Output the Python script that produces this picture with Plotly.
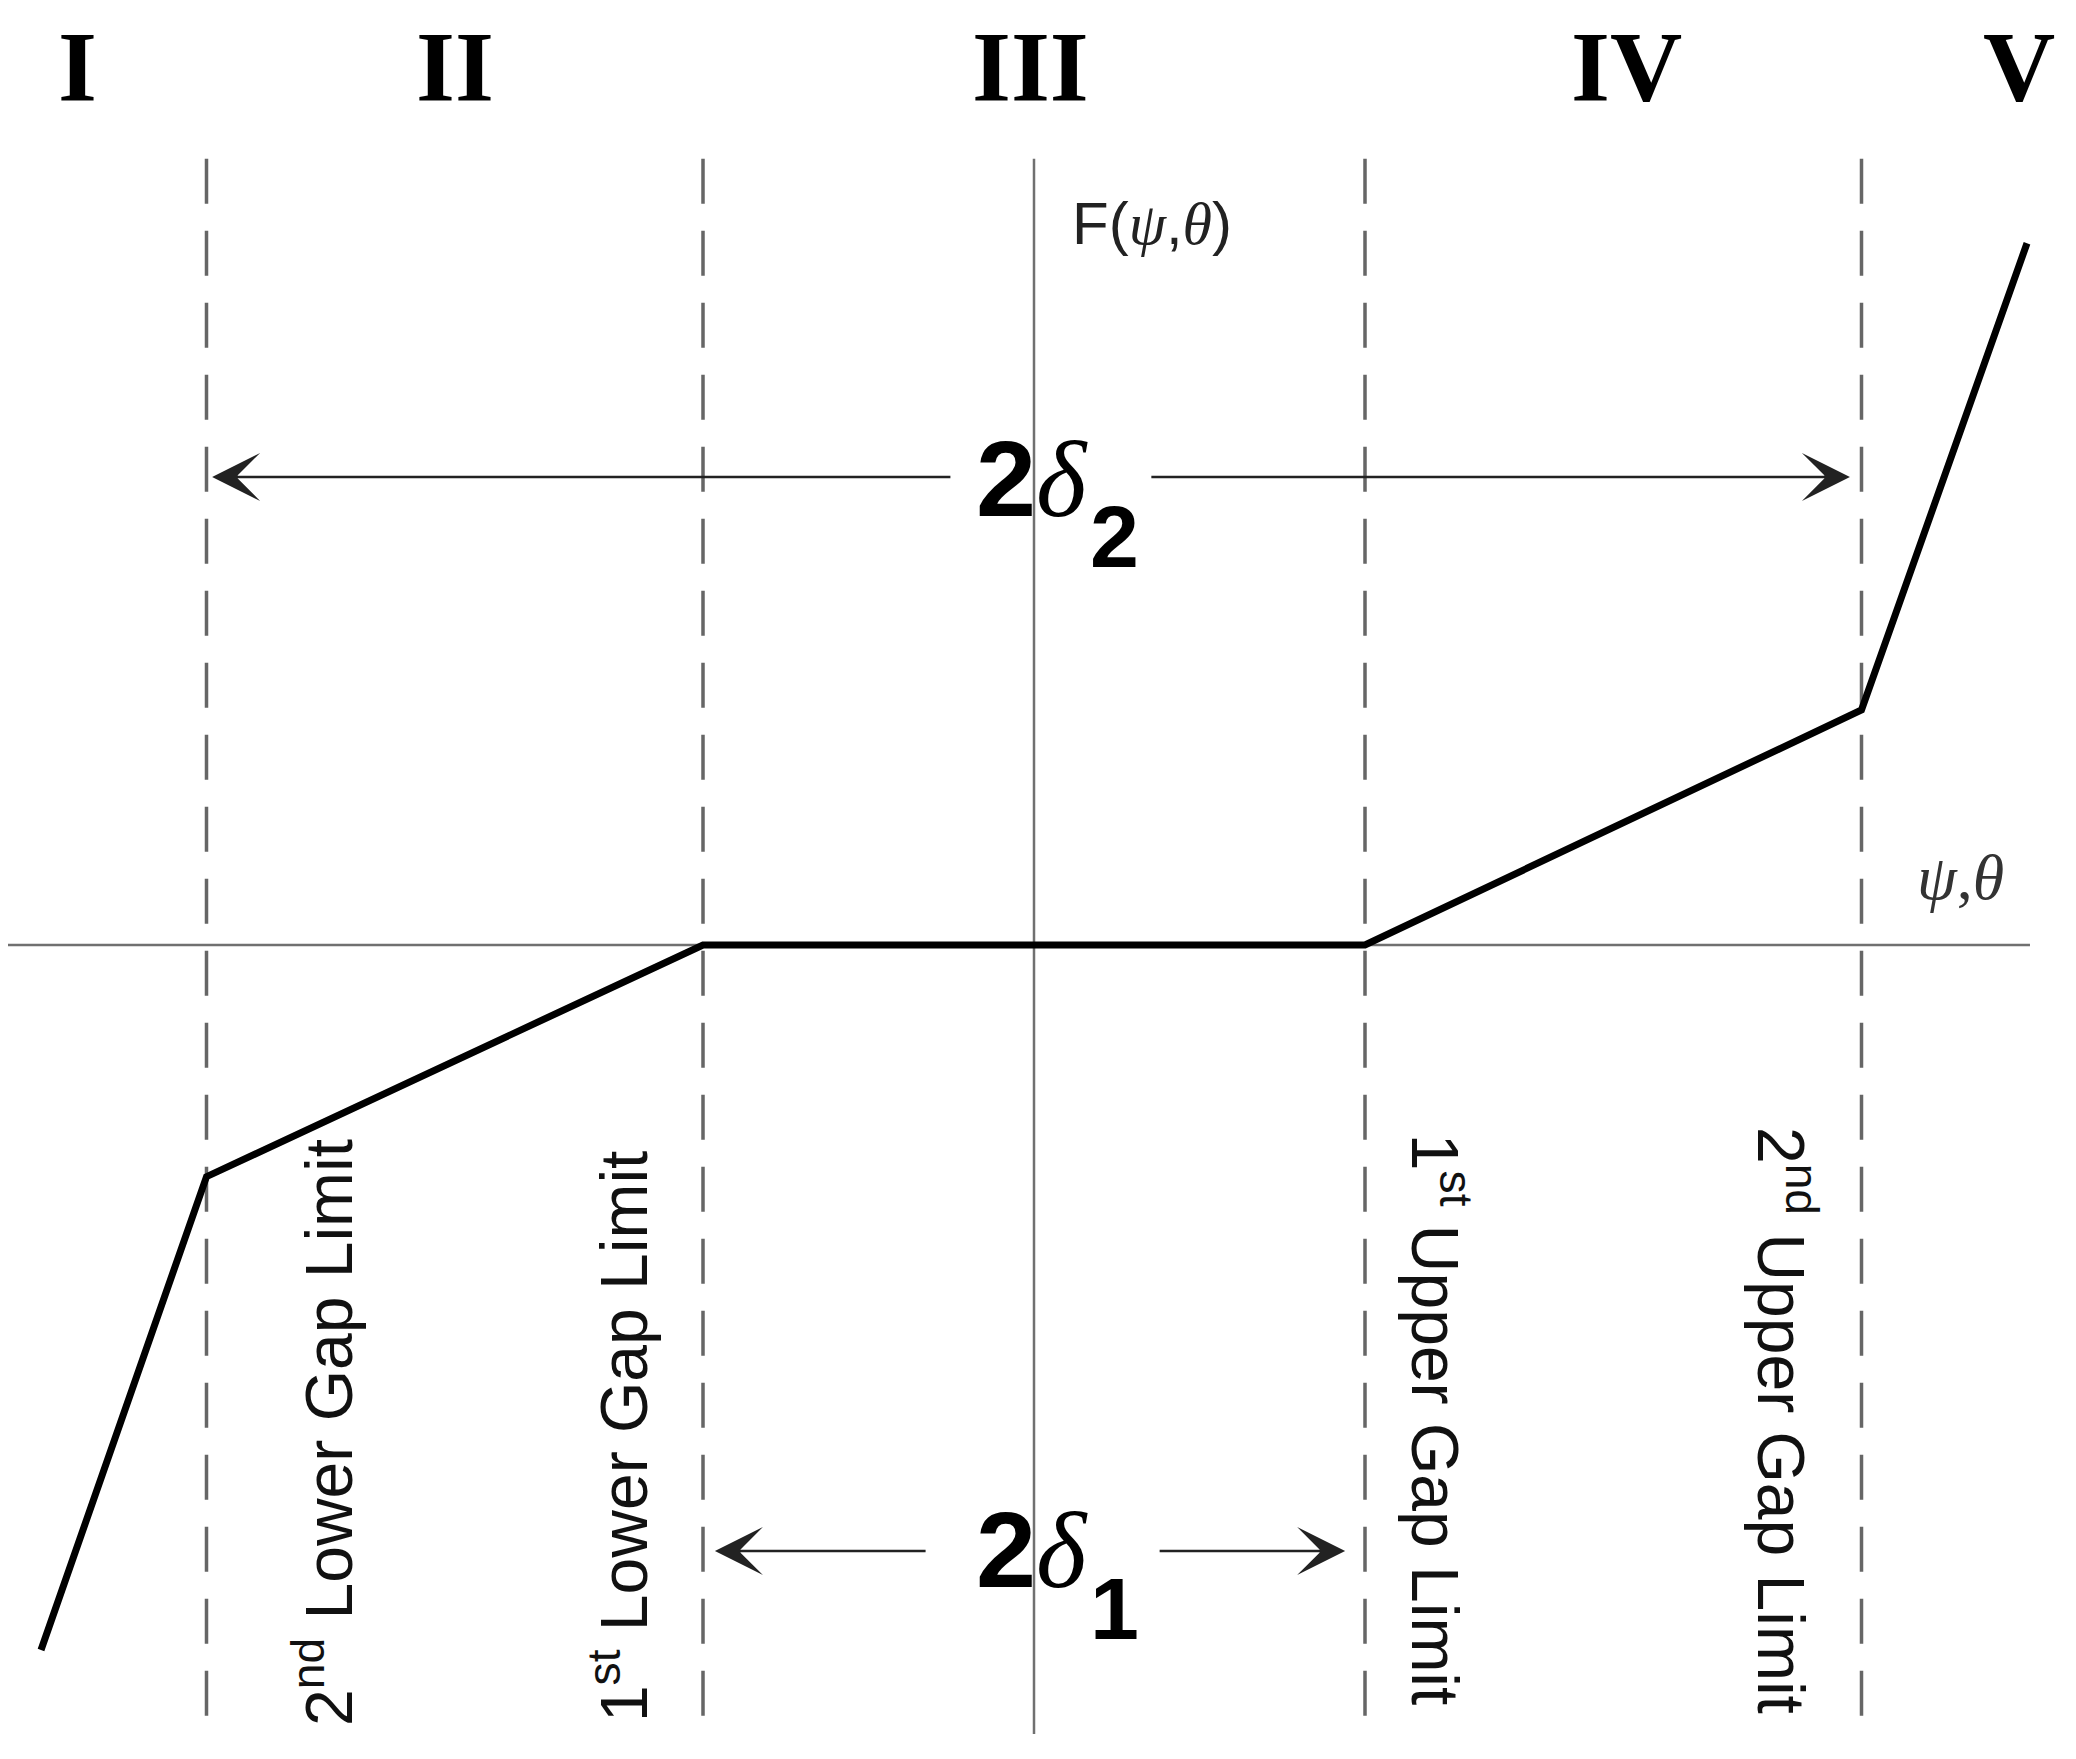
import plotly.graph_objects as go

# piecewise response F(psi, theta) -- x in units of delta_1
psi = [-3.0, -2.5, -1.0, 1.0, 2.5, 3.0]
F = [-2.13, -0.70, 0.0, 0.0, 0.71, 2.12]

# gap limits (dashed verticals)
gap_limits = [-2.5, -1.0, 1.0, 2.5]
gap_labels = [
    "2<sup>nd</sup> Lower Gap Limit",
    "1<sup>st</sup> Lower Gap Limit",
    "1<sup>st</sup> Upper Gap Limit",
    "2<sup>nd</sup> Upper Gap Limit",
]
gap_label_x = [-2.145, -1.251, 1.227, 2.272]
gap_label_y = [-1.474, -1.484, -1.435, -1.435]
gap_label_angle = [-90, -90, 90, 90]

# regions
regions = ["I", "II", "III", "IV", "V"]
region_x = [-2.89, -1.75, -0.01, 1.79, 2.975]

# extents of the reference lines
h_axis = [-3.103, 3.009]
v_axis = [2.375, -2.384]

SERIF = "Liberation Serif"
SANS = "Liberation Sans"
ital = '<span style="font-family:Liberation Serif;font-style:italic">%s</span>'

fig = go.Figure()

# axes
fig.add_trace(go.Scatter(x=h_axis, y=[0, 0], mode="lines",
                         line=dict(color="#707070", width=2.5), hoverinfo="skip"))
fig.add_trace(go.Scatter(x=[0, 0], y=v_axis, mode="lines",
                         line=dict(color="#707070", width=2.5), hoverinfo="skip"))

# gap limits
for gx in gap_limits:
    fig.add_trace(go.Scatter(x=[gx, gx], y=v_axis, mode="lines",
                             line=dict(color="#666666", width=3.5, dash="45px,27px"),
                             hoverinfo="skip"))

# F curve
fig.add_trace(go.Scatter(x=psi, y=F, mode="lines",
                         line=dict(color="black", width=7), hoverinfo="skip"))

annotations = []

for lab, rx in zip(regions, region_x):
    annotations.append(dict(x=rx, y=2.655, text="<b>%s</b>" % lab, showarrow=False,
                            font=dict(family=SERIF, size=100, color="black")))

for lab, lx, ly, ang in zip(gap_labels, gap_label_x, gap_label_y, gap_label_angle):
    annotations.append(dict(x=lx, y=ly, text=lab, textangle=ang, showarrow=False,
                            font=dict(family=SANS, size=66, color="#111111")))

# axis labels
annotations.append(dict(x=0.355, y=2.18, showarrow=False,
                        text="F(" + ital % "ψ" + "," + ital % "θ" + ")",
                        font=dict(family=SANS, size=60, color="#222222")))
annotations.append(dict(x=2.80, y=0.205, showarrow=False,
                        text=ital % "ψ" + "," + ital % "θ",
                        font=dict(family=SERIF, size=64, color="#333333")))

# 2 delta_2 and 2 delta_1 arrows
arrow_style = dict(showarrow=True, arrowhead=3, arrowsize=3.2, arrowwidth=2.5,
                   arrowcolor="#222222", axref="x", ayref="y", text="")
annotations += [
    dict(x=-2.483, y=1.414, ax=-0.248, ay=1.414, **arrow_style),
    dict(x=2.465, y=1.414, ax=0.350, ay=1.414, **arrow_style),
    dict(x=-0.964, y=-1.831, ax=-0.323, ay=-1.831, **arrow_style),
    dict(x=0.940, y=-1.831, ax=0.375, ay=-1.831, **arrow_style),
]

for dy, sub, sy in [(1.41, "2", 1.235), (-1.825, "1", -2.005)]:
    annotations.append(dict(x=-0.005, y=dy, showarrow=False,
                            text="<b>2</b>" + ital % "δ",
                            font=dict(family=SANS, size=108, color="black")))
    annotations.append(dict(x=0.243, y=sy, showarrow=False, text="<b>%s</b>" % sub,
                            font=dict(family=SANS, size=88, color="black")))

# the page body adds an 8px offset, so the ranges are shifted to compensate
fig.update_layout(
    width=2076, height=1759,
    margin=dict(l=0, r=0, t=0, b=0),
    paper_bgcolor="white", plot_bgcolor="white",
    showlegend=False,
    xaxis=dict(range=[-3.0997, 3.1722], visible=False),
    yaxis=dict(range=[-2.4834, 2.8308], visible=False),
    annotations=annotations,
)

fig.write_html("out.html")
